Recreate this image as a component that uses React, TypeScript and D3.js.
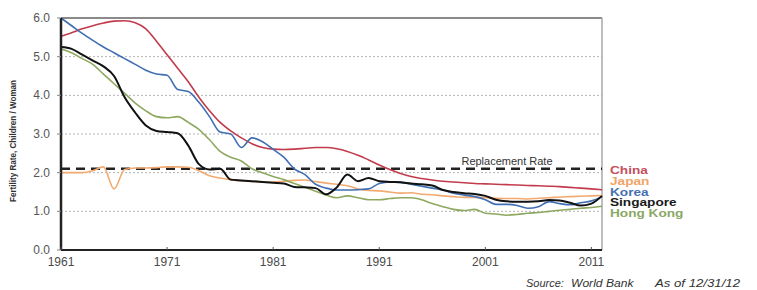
import React from 'react';
import * as d3 from 'd3';

// years 1961..2012
const years = d3.range(1961, 2013);

const china = [5.53, 5.62, 5.72, 5.8, 5.87, 5.92, 5.93, 5.88, 5.72, 5.4, 5.05, 4.7, 4.35, 3.95, 3.6, 3.3, 3.08, 2.9, 2.75, 2.65,
  2.61, 2.6, 2.61, 2.63, 2.65, 2.65, 2.62, 2.55, 2.45, 2.33, 2.2, 2.08, 1.98, 1.9, 1.85, 1.81, 1.78, 1.76, 1.74, 1.72,
  1.71, 1.7, 1.69, 1.68, 1.67, 1.66, 1.65, 1.64, 1.62, 1.6, 1.58, 1.56];
const japan = [2.0, 2.0, 2.0, 2.05, 2.15, 1.58, 2.08, 2.12, 2.12, 2.13, 2.15, 2.15, 2.14, 2.05, 1.92, 1.86, 1.82, 1.79, 1.77, 1.76,
  1.76, 1.78, 1.8, 1.81, 1.77, 1.73, 1.7, 1.66, 1.58, 1.54, 1.53, 1.5, 1.47, 1.48, 1.44, 1.43, 1.4, 1.38, 1.36, 1.36,
  1.35, 1.34, 1.33, 1.33, 1.32, 1.34, 1.35, 1.37, 1.38, 1.39, 1.4, 1.41];
const korea = [6.0, 5.8, 5.6, 5.42, 5.25, 5.1, 4.95, 4.8, 4.65, 4.55, 4.52, 4.15, 4.1, 3.82, 3.45, 3.05, 3.0, 2.65, 2.9, 2.8,
  2.6, 2.4, 2.1, 1.95, 1.7, 1.6, 1.55, 1.55, 1.56, 1.58, 1.72, 1.76, 1.75, 1.7, 1.65, 1.6, 1.55, 1.47, 1.42, 1.38,
  1.3, 1.18, 1.18, 1.15, 1.08, 1.12, 1.25, 1.2, 1.17, 1.22, 1.27, 1.38];
const singapore = [5.25, 5.2, 5.05, 4.9, 4.75, 4.5, 3.95, 3.55, 3.22, 3.08, 3.05, 3.02, 2.7, 2.22, 2.08, 2.1, 1.82, 1.8, 1.78, 1.76,
  1.74, 1.72, 1.63, 1.62, 1.6, 1.44, 1.62, 1.95, 1.78, 1.86, 1.78, 1.76, 1.75, 1.72, 1.7, 1.67, 1.55, 1.5, 1.47, 1.45,
  1.4, 1.3, 1.26, 1.25, 1.25, 1.26, 1.29, 1.28, 1.22, 1.15, 1.2, 1.4];
const hongKong = [5.2, 5.1, 4.95, 4.8, 4.55, 4.3, 4.05, 3.8, 3.6, 3.45, 3.42, 3.45, 3.3, 3.12, 2.85, 2.55, 2.4, 2.3, 2.1, 2.0,
  1.9, 1.82, 1.72, 1.62, 1.52, 1.42, 1.35, 1.4, 1.35, 1.3, 1.3, 1.33, 1.35, 1.35, 1.3, 1.2, 1.12, 1.05, 1.02, 1.05,
  0.95, 0.93, 0.9, 0.92, 0.95, 0.97, 1.0, 1.03, 1.05, 1.08, 1.1, 1.13];

const seriesNames = ['China', 'Japan', 'Korea', 'Singapore', 'Hong Kong'];
const seriesValues = [china, japan, korea, singapore, hongKong];
const lineColors = ['#c23b4c', '#f2aa70', '#3f6fb2', '#111111', '#8ea85f'];
const legendColors = ['#c4505e', '#f0a466', '#4670b0', '#1a1a1a', '#8aa866'];
const drawOrder = [0, 1, 4, 2, 3];

const yTicks = [0, 1, 2, 3, 4, 5, 6];
const xTicks = [1961, 1971, 1981, 1991, 2001, 2011];
const replacementRate = 2.1;

const App = () => {
  const x = d3.scaleLinear().domain([1961, 2012]).range([61, 602]);
  const y = d3.scaleLinear().domain([0, 6]).range([250, 18]);

  const line = d3.line<number>()
    .x((d, i) => x(years[i]))
    .y(d => y(d))
    .curve(d3.curveMonotoneX);

  const font = 'Arial, "Liberation Sans", sans-serif';

  return (
    <svg width={757} height={290} style={{ position: 'absolute', left: 0, top: 0, background: '#fff' }} fontFamily={font}>
      {/* grid */}
      {yTicks.filter(t => t > 0 && t < 6).map(t => (
        <line key={t} x1={x(1961)} x2={x(2012)} y1={y(t)} y2={y(t)} stroke="#b5b5b5" strokeWidth={1} strokeDasharray="2,2" />
      ))}
      <line x1={x(1961)} x2={x(2012)} y1={y(6)} y2={y(6)} stroke="#8a8a8a" strokeWidth={1.8} />
      <line x1={x(2012)} x2={x(2012)} y1={y(6)} y2={y(0)} stroke="#a8a8a8" strokeWidth={1.5} />

      {/* replacement rate */}
      <line x1={x(1961)} x2={x(2012)} y1={y(replacementRate)} y2={y(replacementRate)} stroke="#222" strokeWidth={2.5} strokeDasharray="9,6" />
      <text x={507} y={y(replacementRate) - 4} textAnchor="middle" fontSize={11} fill="#333">Replacement Rate</text>

      {/* series */}
      {drawOrder.map(i => (
        <path key={seriesNames[i]} d={line(seriesValues[i]) || ''} fill="none" stroke={lineColors[i]}
          strokeWidth={i === 3 ? 2 : 1.6} strokeLinejoin="round" />
      ))}

      {/* axes */}
      <line x1={x(1961)} x2={x(1961)} y1={y(6)} y2={y(0)} stroke="#222" strokeWidth={2.5} />
      <line x1={x(1961)} x2={x(2012)} y1={y(0)} y2={y(0)} stroke="#222" strokeWidth={2} />
      {xTicks.map(t => (
        <g key={t}>
          <line x1={x(t)} x2={x(t)} y1={y(0)} y2={y(0) - 3} stroke="#555" strokeWidth={1} />
          <text x={x(t)} y={266} textAnchor="middle" fontSize={12} fill="#4a4a4a">{t}</text>
        </g>
      ))}
      {yTicks.map(t => (
        <g key={t}>
          <line x1={x(1961) - 4} x2={x(1961)} y1={y(t)} y2={y(t)} stroke="#888" strokeWidth={1} />
          <text x={50} y={y(t) + 4} textAnchor="end" fontSize={12} fill="#555">{t.toFixed(1)}</text>
        </g>
      ))}
      <text transform="translate(16,141) rotate(-90)" textAnchor="middle" fontSize={9} fontWeight="bold" fill="#333"
        textLength={122} lengthAdjust="spacingAndGlyphs">Fertility Rate, Children / Woman</text>

      {/* legend */}
      {seriesNames.map((name, i) => (
        <text key={name} transform={`translate(610,${174 + i * 10.8}) scale(1.3,1)`} fontSize={10.5} fontWeight="bold"
          fill={legendColors[i]}>{name}</text>
      ))}

      {/* source */}
      <g fontStyle="italic" fill="#333" fontSize={11}>
        <text x={526} y={287}>Source:</text>
        <text transform="translate(571,287) scale(1.1,1)">World Bank</text>
        <text transform="translate(655,287) scale(1.2,1)">As of 12/31/12</text>
      </g>
    </svg>
  );
};

export default App;
